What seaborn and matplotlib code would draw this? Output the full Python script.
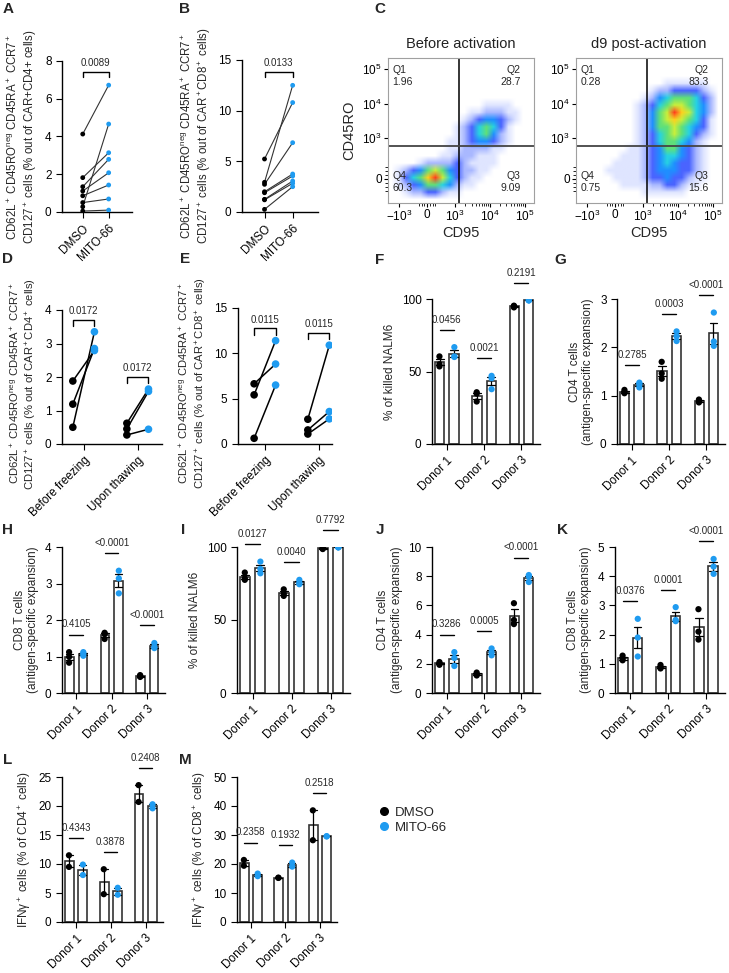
import numpy as np
import pandas as pd
import matplotlib
matplotlib.use("Agg")
import matplotlib.pyplot as plt
from matplotlib.colors import ListedColormap
from matplotlib.lines import Line2D
from matplotlib.ticker import FixedLocator
import seaborn as sns

sns.set_style("ticks")
plt.rcParams["font.family"] = ["Liberation Sans", "DejaVu Sans"]
plt.rcParams["mathtext.fontset"] = "custom"
plt.rcParams["mathtext.rm"] = "Liberation Sans"
plt.rcParams["mathtext.it"] = "Liberation Sans:italic"
plt.rcParams["mathtext.bf"] = "Liberation Sans:bold"
plt.rcParams["axes.linewidth"] = 1.0
plt.rcParams["axes.edgecolor"] = "black"
plt.rcParams["xtick.color"] = "black"
plt.rcParams["ytick.color"] = "black"
plt.rcParams["xtick.major.size"] = 4
plt.rcParams["ytick.major.size"] = 4
plt.rcParams["xtick.labelsize"] = 8.5
plt.rcParams["ytick.labelsize"] = 8.5

BLUE = "#1f9bf0"
CONDS = ["DMSO", "MITO-66"]
PAL = {"DMSO": "black", "MITO-66": BLUE}
DONORS = ["Donor 1", "Donor 2", "Donor 3"]
STAGES = ["Before freezing", "Upon thawing"]

# ---- paired naive-like T cell frequencies (A, B, D, E) ----
A_DMSO = [4.13, 1.82, 1.34, 1.11, 0.86, 0.50, 0.28, 0.05]
A_MITO = [6.72, 3.14, 2.79, 2.08, 1.43, 0.69, 4.66, 0.10]
A_P = "0.0089"
B_DMSO = [5.23, 2.93, 2.73, 2.00, 1.90, 1.25, 1.20, 0.26]
B_MITO = [10.8, 12.5, 6.84, 3.75, 3.55, 3.06, 2.83, 2.50]
B_P = "0.0133"
D_DMSO = [[1.88, 1.19, 0.50], [0.62, 0.45, 0.27]]
D_MITO = [[2.79, 2.85, 3.35], [1.64, 1.57, 0.44]]
D_P = ["0.0172", "0.0172"]
E_DMSO = [[6.64, 5.42, 0.63], [2.73, 1.55, 1.10]]
E_MITO = [[8.82, 11.4, 6.50], [10.9, 3.58, 2.77]]
E_P = ["0.0115", "0.0115"]

# ---- bar panels (F - M), one list per donor ----
F_DMSO = [[60.4, 55.0, 53.5], [35.7, 34.8, 29.3], [95.4, 95.0, 94.2]]
F_MITO = [[60.4, 60.0, 66.8], [47.0, 45.4, 37.8], [99.2, 99.0, 99.1]]
F_P = ["0.0456", "0.0021", "0.2191"]
G_DMSO = [[1.12, 1.05, 1.08], [1.70, 1.46, 1.35], [0.92, 0.89, 0.86]]
G_MITO = [[1.27, 1.24, 1.17], [2.33, 2.23, 2.13], [2.72, 2.12, 2.03]]
G_P = ["0.2785", "0.0003", "<0.0001"]
H_DMSO = [[1.12, 0.99, 0.83], [1.65, 1.62, 1.48], [0.49, 0.46, 0.44]]
H_MITO = [[1.12, 1.08, 1.02], [3.35, 3.14, 2.73], [1.37, 1.26, 1.23]]
H_P = ["0.4105", "<0.0001", "<0.0001"]
I_DMSO = [[82.5, 78.5, 77.5], [71.0, 68.0, 66.5], [99.5, 98.6, 99.0]]
I_MITO = [[90.0, 85.0, 82.0], [77.5, 75.5, 74.5], [99.9, 99.8, 99.7]]
I_P = ["0.0127", "0.0040", "0.7792"]
J_DMSO = [[2.12, 2.02, 1.93], [1.40, 1.28, 1.20], [6.15, 5.00, 4.72]]
J_MITO = [[2.80, 2.40, 1.85], [3.05, 2.80, 2.58], [8.08, 7.98, 7.60]]
J_P = ["0.3286", "0.0005", "<0.0001"]
K_DMSO = [[1.28, 1.18, 1.12], [0.96, 0.88, 0.84], [2.87, 2.10, 1.83]]
K_MITO = [[2.54, 1.90, 1.25], [2.94, 2.50, 2.46], [4.59, 4.33, 4.08]]
K_P = ["0.0376", "0.0001", "<0.0001"]
L_DMSO = [[11.5, 9.5], [9.1, 4.8], [23.6, 20.7]]
L_MITO = [[9.9, 8.1], [5.9, 4.7], [20.3, 19.6]]
L_P = ["0.4343", "0.3878", "0.2408"]
M_DMSO = [[21.4, 19.4], [15.3, 15.2], [38.5, 28.2]]
M_MITO = [[16.7, 15.8], [20.5, 19.1], [29.6, 29.5]]
M_P = ["0.2358", "0.1932", "0.2518"]

# ---- flow plots (C): coarse density, 0 = empty ----
C_TITLES = ["Before activation", "d9 post-activation"]
C_QUADS = [["1.96", "28.7", "9.09", "60.3"], ["0.28", "83.3", "15.6", "0.75"]]
C_DENS_BEFORE = [
    "00000000000000000000",
    "00000000000000000000",
    "00000000000000000000",
    "00000000000000000000",
    "00000000000000000000",
    "00000000000000000000",
    "00000000000001111000",
    "00000000000112221100",
    "00000000001234432100",
    "00000000012356531000",
    "00000000012356421000",
    "00000000112344321000",
    "00000000112222110000",
    "00000001122211100000",
    "00001222232111100000",
    "01234676432211000000",
    "01356897532110000000",
    "01234665421100000000",
    "00122332110000000000",
    "00000000000000000000",
]
C_DENS_AFTER = [
    "00000000000000000000",
    "00000000000000000000",
    "00000000000000000000",
    "00000000000011111100",
    "00000000001223333210",
    "00000000012456665320",
    "00000000123567765420",
    "00000000124679875420",
    "00000000124678765310",
    "00000000124667654310",
    "00000000123567653210",
    "00000000123566542100",
    "00000001123466432100",
    "00000011123455432100",
    "00000111123454332100",
    "00001111123444332100",
    "00000111123343321100",
    "00000011112233211000",
    "00000000011111100000",
    "00000000000000000000",
]
DENS_COLORS = ["#ffffff", "#dfe5ff", "#a9b8ff", "#4a64ff", "#1f8fff",
               "#27d2e2", "#5fe07a", "#c8ef3c", "#ffcf1e", "#ff3b1e"]

W, H = 729, 973
fig = plt.figure(figsize=(W / 100, H / 100), dpi=100)


def add_ax(x0, y0, x1, y1):
    return fig.add_axes([x0 / W, 1 - y1 / H, (x1 - x0) / W, (y1 - y0) / H])


def naive_label(which):
    return ("CD62L$^+$ CD45RO$^{\\mathrm{neg}}$ CD45RA$^+$ CCR7$^+$\n"
            "CD127$^+$ cells (% out of " + which + " cells)")


def bracket(ax, x0, x1, y, drop, text):
    ax.plot([x0, x0, x1, x1], [y - drop, y, y, y - drop], color="k", lw=1, clip_on=False)
    ax.text((x0 + x1) / 2, y + drop * 0.6, text, ha="center", va="bottom", fontsize=7)


def paired_panel(ax, dmso, mito, p, ytop, ystep, ylabel):
    n = len(dmso)
    df = pd.DataFrame({"pair": list(range(n)) * 2,
                       "cond": ["DMSO"] * n + ["MITO-66"] * n,
                       "val": dmso + mito})
    df["pos"] = df["cond"].map({"DMSO": 0, "MITO-66": 1})
    sns.lineplot(df, x="pos", y="val", units="pair", estimator=None,
                 color="#333333", lw=0.8, ax=ax, legend=False)
    sns.scatterplot(df, x="pos", y="val", hue="cond", palette=PAL, s=12,
                    edgecolor="none", legend=False, ax=ax, zorder=3)
    ax.set_xlim(-0.8, 1.9)
    ax.set_ylim(0, ytop)
    ax.set_yticks(np.arange(0, ytop + 1e-9, ystep))
    ax.set_xticks([0, 1])
    ax.set_xticklabels(CONDS, rotation=45, ha="right", rotation_mode="anchor")
    ax.set_xlabel("")
    ax.set_ylabel(ylabel, fontsize=8.3)
    bracket(ax, 0, 1, max(dmso + mito) + 0.09 * ytop, 0.035 * ytop, p)
    sns.despine(ax=ax)


def paired_groups(ax, dmso, mito, pvals, ytop, ystep, ylabel, xlim):
    rows = []
    for g, stage in enumerate(STAGES):
        for k, (a, b) in enumerate(zip(dmso[g], mito[g])):
            rows.append((g, stage, g * 10 + k, "DMSO", g - 0.2, a))
            rows.append((g, stage, g * 10 + k, "MITO-66", g + 0.2, b))
    df = pd.DataFrame(rows, columns=["g", "stage", "pair", "cond", "pos", "val"])
    sns.lineplot(df, x="pos", y="val", units="pair", estimator=None,
                 color="black", lw=1.1, ax=ax, legend=False)
    sns.scatterplot(df, x="pos", y="val", hue="cond", palette=PAL, s=30,
                    edgecolor="none", legend=False, ax=ax, zorder=3)
    ax.set_xlim(*xlim)
    ax.set_ylim(0, ytop)
    ax.set_yticks(np.arange(0, ytop + 1e-9, ystep))
    ax.set_xticks([0, 1])
    ax.set_xticklabels(STAGES, rotation=45, ha="right", rotation_mode="anchor")
    ax.set_xlabel("")
    ax.set_ylabel(ylabel, fontsize=8.1)
    ax.yaxis.label.set_y(0.45)
    for g in range(len(STAGES)):
        top = max(dmso[g] + mito[g])
        bracket(ax, g - 0.2, g + 0.2, top + 0.09 * ytop, 0.045 * ytop, pvals[g])
    sns.despine(ax=ax)


def bar_panel(ax, dmso, mito, pvals, ytop, ystep, ylabel):
    rows = []
    for i, donor in enumerate(DONORS):
        rows += [(donor, "DMSO", v) for v in dmso[i]]
        rows += [(donor, "MITO-66", v) for v in mito[i]]
    df = pd.DataFrame(rows, columns=["donor", "cond", "val"])
    sns.barplot(df, x="donor", y="val", hue="cond", order=DONORS, hue_order=CONDS,
                palette={"DMSO": "white", "MITO-66": "white"}, saturation=1,
                edgecolor="#333333", linewidth=1.2, width=0.76, gap=0.34,
                errorbar="se", capsize=0.4,
                err_kws={"color": "black", "linewidth": 0.9},
                legend=False, ax=ax)
    sns.stripplot(df, x="donor", y="val", hue="cond", order=DONORS, hue_order=CONDS,
                  palette=PAL, dodge=True, jitter=False, size=4.5, legend=False,
                  ax=ax, zorder=4)
    ax.set_xlim(-0.4, 2.5)
    ax.set_ylim(0, ytop)
    ax.set_yticks(np.arange(0, ytop + 1e-9, ystep))
    ax.set_xticks(range(len(DONORS)))
    ax.set_xticklabels(DONORS, rotation=45, ha="right", rotation_mode="anchor")
    ax.set_xlabel("")
    ax.set_ylabel(ylabel, fontsize=8.5)
    for i in range(len(DONORS)):
        y = max(dmso[i] + mito[i]) + 0.12 * ytop
        ax.plot([i - 0.19, i + 0.19], [y, y], color="black", lw=1, clip_on=False)
        ax.text(i, y + 0.035 * ytop, pvals[i], ha="center", va="bottom",
                fontsize=7, clip_on=False)
    sns.despine(ax=ax)


def flow_panel(ax, dens, title, quads, show_ylabel):
    grid = np.array([[int(c) for c in row] for row in dens])
    ax.set_xscale("symlog", linthresh=1000, linscale=0.72)
    ax.set_yscale("symlog", linthresh=1000, linscale=1.05)
    ax.imshow(grid, cmap=ListedColormap(DENS_COLORS), vmin=-0.5, vmax=9.5,
              extent=(0, 1, 0, 1), transform=ax.transAxes, aspect="auto",
              interpolation="bilinear", interpolation_stage="rgba", zorder=0)
    ax.set_xlim(-2100, 1.86e5)
    ax.set_ylim(-605, 2.1e5)
    ax.axvline(1280, color="black", lw=1.1, zorder=2)
    ax.axhline(816, color="#444444", lw=1.3, zorder=2)
    ax.set_xticks([-1000, 0, 1000, 1e4, 1e5])
    ax.set_xticklabels(["$-10^3$", "0", "$10^3$", "$10^4$", "$10^5$"])
    ax.set_yticks([0, 1000, 1e4, 1e5])
    ax.set_yticklabels(["0", "$10^3$", "$10^4$", "$10^5$"])
    xminor = [-300, -200, -100, 100, 200, 300] + [m * d for d in (1e3, 1e4) for m in range(2, 10)]
    ax.xaxis.set_minor_locator(FixedLocator(xminor))
    ax.yaxis.set_minor_locator(FixedLocator([-300, -200, -100, 100, 200, 300]))
    ax.tick_params(which="major", length=3, width=0.8, labelsize=8.5, pad=1.5)
    ax.tick_params(which="minor", length=2, width=0.6)
    for s in ax.spines.values():
        s.set_color("#a0a0a0")
        s.set_linewidth(0.8)
    ax.set_title(title, fontsize=10.5, pad=7, color="#222222")
    ax.set_xlabel("CD95", fontsize=10.5, labelpad=1)
    if show_ylabel:
        ax.set_ylabel("CD45RO", fontsize=10.5, labelpad=4)
    kw = dict(transform=ax.transAxes, fontsize=7.5, linespacing=1.25)
    ax.text(0.03, 0.955, "Q1\n" + quads[0], ha="left", va="top", **kw)
    ax.text(0.91, 0.955, "Q2\n" + quads[1], ha="right", va="top", **kw)
    ax.text(0.91, 0.07, "Q3\n" + quads[2], ha="right", va="bottom", **kw)
    ax.text(0.03, 0.07, "Q4\n" + quads[3], ha="left", va="bottom", **kw)


# ---- row 1 ----
paired_panel(add_ax(62, 61, 132, 212), A_DMSO, A_MITO, A_P, 8, 2, naive_label("CAR+CD4+"))
paired_panel(add_ax(242, 60, 318, 212), B_DMSO, B_MITO, B_P, 15, 5,
             naive_label("CAR$^+$CD8$^+$"))
flow_panel(add_ax(388, 58, 534, 203), C_DENS_BEFORE, C_TITLES[0], C_QUADS[0], True)
flow_panel(add_ax(576, 58, 722, 203), C_DENS_AFTER, C_TITLES[1], C_QUADS[1], False)

# ---- row 2 ----
paired_groups(add_ax(62, 310, 162, 444), D_DMSO, D_MITO, D_P, 4, 1,
              naive_label("CAR$^+$CD4$^+$"), (-0.4, 1.45))
paired_groups(add_ax(238, 308, 332, 444), E_DMSO, E_MITO, E_P, 15, 5,
              naive_label("CAR$^+$CD8$^+$"), (-0.5, 1.25))
bar_panel(add_ax(432, 299, 540, 444), F_DMSO, F_MITO, F_P, 100, 50, "% of killed NALM6")
bar_panel(add_ax(617, 299, 725, 444), G_DMSO, G_MITO, G_P, 3, 1,
          "CD4 T cells\n(antigen-specific expansion)")

# ---- row 3 ----
bar_panel(add_ax(62, 547, 165, 693), H_DMSO, H_MITO, H_P, 4, 1,
          "CD8 T cells\n(antigen-specific expansion)")
bar_panel(add_ax(237, 547, 350, 693), I_DMSO, I_MITO, I_P, 100, 50, "% of killed NALM6")
bar_panel(add_ax(432, 547, 540, 693), J_DMSO, J_MITO, J_P, 10, 2,
          "CD4 T cells\n(antigen-specific expansion)")
bar_panel(add_ax(615, 547, 725, 693), K_DMSO, K_MITO, K_P, 5, 1,
          "CD8 T cells\n(antigen-specific expansion)")

# ---- row 4 ----
bar_panel(add_ax(62, 777, 163, 922), L_DMSO, L_MITO, L_P, 25, 5,
          "IFNγ$^+$ cells (% of CD4$^+$ cells)")
bar_panel(add_ax(237, 777, 337, 922), M_DMSO, M_MITO, M_P, 50, 10,
          "IFNγ$^+$ cells (% of CD8$^+$ cells)")

handles = [Line2D([], [], marker="o", ls="", color=PAL[c], markersize=5.5) for c in CONDS]
fig.legend(handles, CONDS, loc="upper left", bbox_to_anchor=(372 / W, 1 - 801 / H),
           frameon=False, fontsize=9.5, handletextpad=0.3, labelspacing=0.25,
           handlelength=1.0, borderaxespad=0)

# panel letters
letters = [("A", 8, 9), ("B", 185, 9), ("C", 380, 9), ("D", 8, 259), ("E", 185, 259),
           ("F", 380, 260), ("G", 560, 260), ("H", 8, 530), ("I", 183, 530),
           ("J", 380, 530), ("K", 563, 530), ("L", 8, 760), ("M", 185, 760)]
for lab, x, y in letters:
    fig.text(x / W, 1 - y / H, lab, fontsize=11, fontweight="bold", ha="center", va="center")

fig.savefig("out.png", dpi=100)
